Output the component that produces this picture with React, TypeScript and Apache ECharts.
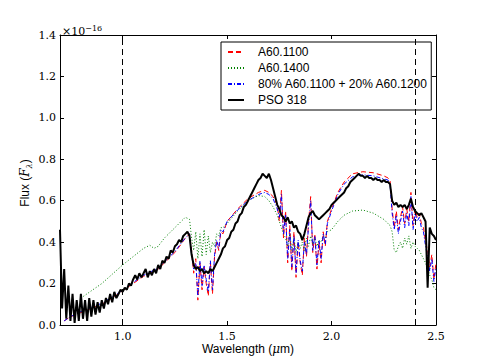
import React, { useEffect, useRef } from "react";
import * as echarts from "echarts";

// Wavelength grid (µm) of the three model spectra
const modelWavelengths = [
  0.72, 0.75, 0.80, 0.85, 0.90, 0.95, 1.00, 1.05, 1.10, 1.13, 1.15, 1.17, 1.20, 1.25, 1.28, 1.30, 1.32,
  1.33, 1.34, 1.35, 1.36, 1.37, 1.38, 1.39, 1.40, 1.41, 1.42, 1.43, 1.44, 1.45, 1.46, 1.47, 1.48,
  1.50, 1.55, 1.60, 1.65, 1.68, 1.70, 1.72,
  1.74, 1.75, 1.76, 1.77, 1.78, 1.79, 1.80, 1.81, 1.82, 1.83, 1.84, 1.85, 1.86, 1.87, 1.88, 1.89, 1.90, 1.91, 1.92, 1.93, 1.94, 1.95, 1.96, 1.97, 1.98,
  2.00, 2.03, 2.06, 2.10, 2.15, 2.20, 2.25, 2.27,
  2.28, 2.29, 2.30, 2.31, 2.32, 2.33, 2.34, 2.35, 2.36, 2.37, 2.38, 2.39, 2.40, 2.41, 2.42, 2.43, 2.44, 2.45, 2.46, 2.47, 2.48, 2.49, 2.50,
];

// A60.1100 (red dashed), flux in units of 1e-16
const a60_1100 = [
  0.02, 0.04, 0.06, 0.08, 0.10, 0.13, 0.165, 0.20, 0.235, 0.25, 0.26, 0.27, 0.30, 0.35, 0.39, 0.42, 0.44,
  0.36, 0.25, 0.32, 0.12, 0.30, 0.17, 0.28, 0.20, 0.14, 0.30, 0.15, 0.33, 0.40, 0.36, 0.45, 0.44,
  0.50, 0.56, 0.61, 0.64, 0.65, 0.64, 0.62,
  0.58, 0.50, 0.65, 0.42, 0.55, 0.30, 0.48, 0.26, 0.45, 0.23, 0.40, 0.30, 0.24, 0.42, 0.33, 0.50, 0.62, 0.35, 0.44, 0.27, 0.40, 0.30, 0.45, 0.38, 0.50,
  0.56, 0.64, 0.69, 0.73, 0.74, 0.735, 0.72, 0.71,
  0.70, 0.56, 0.47, 0.55, 0.46, 0.52, 0.57, 0.49, 0.56, 0.50, 0.64, 0.48, 0.56, 0.52, 0.54, 0.49, 0.47, 0.40, 0.36, 0.28, 0.34, 0.22, 0.30,
];

// A60.1400 (green dotted)
const a60_1400 = [
  null, null, 0.13, 0.165, 0.20, 0.245, 0.29, 0.33, 0.37, 0.385, 0.37, 0.38, 0.42, 0.47, 0.50, 0.52, 0.51,
  0.42, 0.36, 0.45, 0.32, 0.44, 0.33, 0.46, 0.34, 0.43, 0.35, 0.40, 0.38, 0.44, 0.43, 0.47, 0.47,
  0.49, 0.55, 0.60, 0.625, 0.62, 0.60, 0.57,
  0.53, 0.50, 0.47, 0.44, 0.42, 0.38, 0.44, 0.36, 0.42, 0.35, 0.40, 0.37, 0.40, 0.36, 0.42, 0.38, 0.43, 0.39, 0.42, 0.38, 0.41, 0.40, 0.43, 0.42, 0.45,
  0.46, 0.50, 0.53, 0.55, 0.555, 0.54, 0.51, 0.49,
  0.48, 0.45, 0.36, 0.35, 0.38, 0.40, 0.37, 0.42, 0.39, 0.43, 0.37, 0.40, 0.38, 0.37, 0.36, 0.34, 0.32, 0.30, 0.27, 0.24, 0.22, 0.18, 0.17,
];

// 80% A60.1100 + 20% A60.1200 (blue dash-dot)
const mix = [
  0.02, 0.04, 0.065, 0.085, 0.105, 0.135, 0.17, 0.205, 0.24, 0.255, 0.265, 0.275, 0.305, 0.355, 0.395, 0.42, 0.44,
  0.34, 0.27, 0.30, 0.14, 0.31, 0.19, 0.29, 0.22, 0.16, 0.31, 0.17, 0.34, 0.41, 0.37, 0.46, 0.45,
  0.50, 0.555, 0.60, 0.63, 0.64, 0.63, 0.61,
  0.56, 0.52, 0.63, 0.44, 0.53, 0.32, 0.46, 0.28, 0.43, 0.25, 0.41, 0.31, 0.26, 0.40, 0.34, 0.48, 0.60, 0.36, 0.43, 0.29, 0.41, 0.32, 0.44, 0.39, 0.49,
  0.55, 0.63, 0.68, 0.715, 0.725, 0.72, 0.705, 0.70,
  0.68, 0.54, 0.46, 0.53, 0.44, 0.50, 0.55, 0.47, 0.54, 0.48, 0.62, 0.46, 0.54, 0.50, 0.52, 0.47, 0.45, 0.38, 0.33, 0.26, 0.32, 0.21, 0.28,
];

// PSO 318 observed spectrum, sampled every 0.01 µm from 0.70 µm
const psoStart = 0.7;
const psoStep = 0.01;
const pso318 = [
  0.46, 0.08, 0.27, 0.03, 0.19, 0.02, 0.15, 0.01, 0.12, 0.02,
  0.15, 0.03, 0.12, 0.02, 0.13, 0.04, 0.12, 0.05, 0.11, 0.06,
  0.12, 0.08, 0.13, 0.10, 0.15, 0.11, 0.16, 0.13, 0.15, 0.17,
  0.16, 0.18, 0.17, 0.20, 0.19, 0.22, 0.24, 0.22, 0.25, 0.23,
  0.25, 0.27, 0.23, 0.26, 0.24, 0.27, 0.25, 0.29, 0.27, 0.31,
  0.30, 0.33, 0.32, 0.36, 0.35, 0.38, 0.39, 0.41, 0.40, 0.43,
  0.44, 0.45, 0.43, 0.34, 0.29, 0.27, 0.28, 0.26, 0.27, 0.25,
  0.26, 0.25, 0.27, 0.26, 0.28, 0.30, 0.32, 0.34, 0.37, 0.38,
  0.41, 0.42, 0.45, 0.46, 0.49, 0.50, 0.53, 0.54, 0.57, 0.58,
  0.60, 0.62, 0.64, 0.66, 0.68, 0.70, 0.71, 0.73, 0.72, 0.71,
  0.73, 0.70, 0.66, 0.62, 0.58, 0.56, 0.53, 0.52, 0.50, 0.52,
  0.49, 0.50, 0.47, 0.48, 0.45, 0.44, 0.41, 0.44, 0.48, 0.52,
  0.54, 0.55, 0.53, 0.52, 0.51, 0.52, 0.53, 0.54, 0.55, 0.56,
  0.58, 0.59, 0.60, 0.61, 0.62, 0.63, 0.64, 0.66, 0.67, 0.69,
  0.70, 0.71, 0.72, 0.73, 0.72, 0.72, 0.71, 0.72, 0.71, 0.71,
  0.70, 0.71, 0.70, 0.70, 0.69, 0.70, 0.69, 0.69, 0.68, 0.60,
  0.58, 0.59, 0.57, 0.58, 0.57, 0.58, 0.56, 0.58, 0.61, 0.57,
  0.55, 0.54, 0.53, 0.54, 0.52, 0.50, 0.18, 0.47, 0.44, 0.43,
  0.41,
];

const seriesNames = ["A60.1100", "A60.1400", "80% A60.1100 + 20% A60.1200", "PSO 318"];
const xTicks = [1.0, 1.5, 2.0, 2.5];
const referenceLines = [1.0, 2.4];

const serif = "DejaVu Serif";
const sans = "Liberation Sans";

function pairs(xs: number[], ys: (number | null)[]) {
  const out: [number, number][] = [];
  xs.forEach((x, i) => {
    const y = ys[i];
    if (y !== null && y !== undefined) out.push([x, y]);
  });
  return out;
}

export default function App() {
  const ref = useRef<HTMLDivElement>(null);
  useEffect(() => {
    if (!ref.current) return;
    const chart = echarts.init(ref.current, undefined, { renderer: "svg" });
    const psoData = pso318.map((v, i) => [Number((psoStart + i * psoStep).toFixed(2)), v]);

    const xBase = {
      type: "value",
      min: 0.7,
      max: 2.5,
      axisLine: { show: true, onZero: false, lineStyle: { color: "#000", width: 1 } },
      axisTick: { show: true, inside: true, length: 4, customValues: xTicks, lineStyle: { color: "#000" } },
      splitLine: { show: false },
    };
    const yBase = {
      type: "value",
      min: 0,
      max: 1.4,
      interval: 0.2,
      axisLine: { show: true, onZero: false, lineStyle: { color: "#000", width: 1 } },
      axisTick: { show: true, inside: true, length: 4, lineStyle: { color: "#000" } },
      splitLine: { show: false },
    };

    const option: any = {
      animation: false,
      backgroundColor: "#fff",
      grid: { left: 60, top: 35, width: 376, height: 290, containLabel: false },
      xAxis: [
        {
          ...xBase,
          position: "bottom",
          axisLabel: {
            customValues: xTicks,
            formatter: (v: number) => v.toFixed(1),
            color: "#000",
            fontFamily: serif,
            fontSize: 11,
            margin: 6,
          },
        },
        { ...xBase, position: "top", axisLabel: { show: false } },
      ],
      yAxis: [
        {
          ...yBase,
          position: "left",
          axisLabel: {
            formatter: (v: number) => v.toFixed(1),
            color: "#000",
            fontFamily: serif,
            fontSize: 11,
            margin: 4,
          },
        },
        { ...yBase, position: "right", axisLabel: { show: false } },
      ],
      legend: {
        orient: "vertical",
        left: 221,
        top: 42,
        backgroundColor: "#fff",
        borderColor: "#000",
        borderWidth: 1,
        borderRadius: 0,
        padding: [4, 3, 4, 6],
        itemWidth: 16,
        itemHeight: 10,
        itemGap: 4,
        itemStyle: { opacity: 0 },
        textStyle: { fontFamily: sans, fontSize: 12, color: "#000", padding: [0, 0, 0, 9], lineHeight: 12 },
        data: seriesNames,
      },
      graphic: [
        {
          type: "text",
          x: 62,
          y: 31,
          style: {
            text: "×10{s|−16}",
            fontFamily: serif,
            fontSize: 11,
            fill: "#000",
            verticalAlign: "middle",
            rich: { s: { fontFamily: serif, fontSize: 8, fill: "#000", verticalAlign: "top", lineHeight: 14 } },
          },
        },
        {
          type: "text",
          x: 248,
          y: 349,
          style: {
            text: "Wavelength ({m|μ}m)",
            fontFamily: sans,
            fontSize: 12,
            fill: "#000",
            align: "center",
            verticalAlign: "middle",
            rich: { m: { fontFamily: serif, fontStyle: "italic", fontSize: 12, fill: "#000" } },
          },
        },
        {
          type: "text",
          x: 25,
          y: 183,
          rotation: Math.PI / 2,
          style: {
            text: "Flux ({f|F}{s|λ})",
            fontFamily: sans,
            fontSize: 12,
            fill: "#000",
            align: "center",
            verticalAlign: "middle",
            rich: {
              f: { fontFamily: serif, fontStyle: "italic", fontSize: 12, fill: "#000" },
              s: { fontFamily: serif, fontStyle: "italic", fontSize: 8, fill: "#000", verticalAlign: "bottom", lineHeight: 16 },
            },
          },
        },
      ],
      series: [
        {
          name: seriesNames[0],
          type: "line",
          data: pairs(modelWavelengths, a60_1100),
          symbol: "none",
          lineStyle: { color: "#ff0000", width: 1, type: [5, 3] },
          itemStyle: { color: "#ff0000" },
        },
        {
          name: seriesNames[1],
          type: "line",
          data: pairs(modelWavelengths, a60_1400),
          symbol: "none",
          lineStyle: { color: "#008000", width: 1, type: [1, 2] },
          itemStyle: { color: "#008000" },
        },
        {
          name: seriesNames[2],
          type: "line",
          data: pairs(modelWavelengths, mix),
          symbol: "none",
          lineStyle: { color: "#0000ff", width: 1, type: [4, 2, 1, 2] },
          itemStyle: { color: "#0000ff" },
        },
        {
          name: seriesNames[3],
          type: "line",
          data: psoData,
          symbol: "none",
          lineStyle: { color: "#000", width: 2 },
          itemStyle: { color: "#000" },
          markLine: {
            silent: true,
            symbol: ["none", "none"],
            label: { show: false },
            lineStyle: { color: "#000", width: 1, type: [6, 4] },
            data: referenceLines.map((v) => ({ xAxis: v })),
          },
        },
      ],
    };
    chart.setOption(option);
    return () => chart.dispose();
  }, []);

  return (
    <div
      ref={ref}
      style={{ position: "fixed", left: 0, top: 0, width: 485, height: 363, background: "#fff" }}
    />
  );
}
